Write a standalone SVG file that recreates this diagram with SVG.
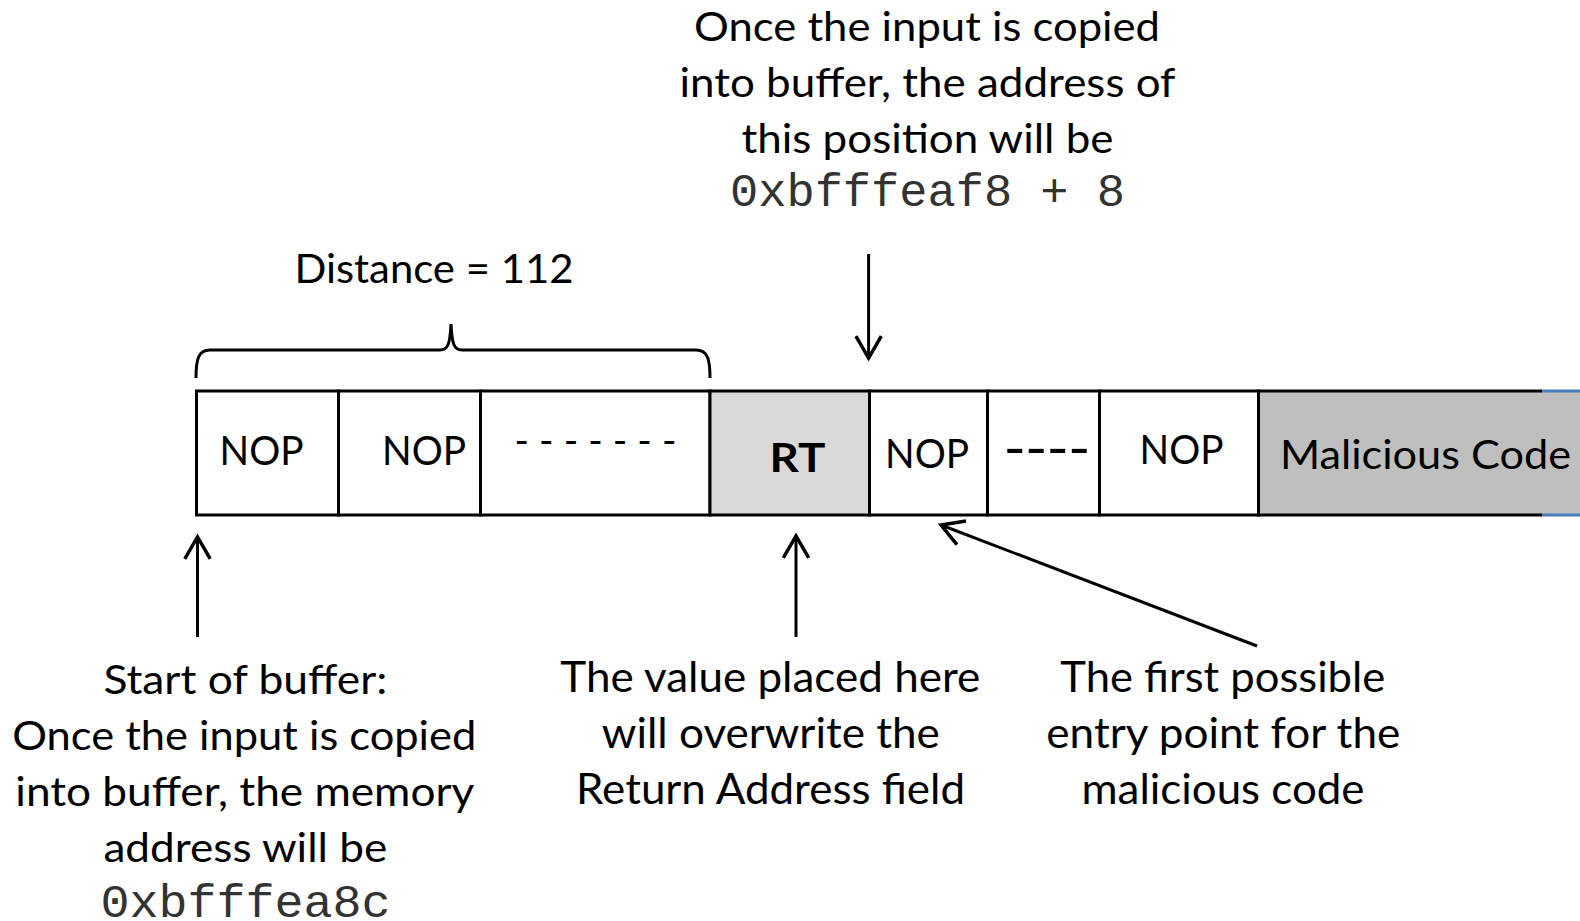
<svg xmlns="http://www.w3.org/2000/svg" width="1580" height="921" viewBox="0 0 1580 921">
<style>
.t{font-family:Lato,"Liberation Sans",sans-serif;font-size:40px;fill:#000;text-anchor:middle}
.c{font-family:Lato,"Liberation Sans",sans-serif;font-size:42px;fill:#000;text-anchor:middle}
.m{font-family:"Liberation Mono",monospace;font-size:46px;fill:#333;text-anchor:middle}
.b{font-weight:bold}
.cell{stroke:#000;stroke-width:3}
.ln{stroke:#000;stroke-width:3;fill:none}
</style>
<defs>
<marker id="ah" markerUnits="userSpaceOnUse" markerWidth="30" markerHeight="30" refX="0" refY="0" viewBox="-22 -13 26 26" orient="auto" overflow="visible">
<path d="M-19,-11 L0,0 L-19,11" fill="none" stroke="#000" stroke-width="3"/>
</marker>
</defs>
<rect width="1580" height="921" fill="#fff"/>

<g id="top-note">
<text class="t" x="927" y="41" textLength="466" lengthAdjust="spacingAndGlyphs">Once the input is copied</text>
<text class="t" x="927.5" y="97" textLength="496" lengthAdjust="spacingAndGlyphs">into buffer, the address of</text>
<text class="t" x="927.5" y="153" textLength="372" lengthAdjust="spacingAndGlyphs">this position will be</text>
<text class="m" x="927.5" y="206" textLength="395" lengthAdjust="spacingAndGlyphs">0xbfffeaf8 + 8</text>
</g>

<g id="distance">
<text class="t" x="434" y="283" textLength="279" lengthAdjust="spacingAndGlyphs">Distance = 112</text>
<path class="ln" d="M196,378 C196,360 198,350 210,350 L440,350 C448,350 450,344 451,324 C452,344 454,350 462,350 L696,350 C708,350 710,360 710,378"/>
</g>

<g id="cell-nop1">
<rect class="cell" x="196.5" y="391" width="142" height="124" fill="#fff"/>
<text class="t" x="261.5" y="464.5" textLength="84" lengthAdjust="spacingAndGlyphs">NOP</text>
</g>
<g id="cell-nop2">
<rect class="cell" x="338.5" y="391" width="142" height="124" fill="#fff"/>
<text class="t" x="424" y="464.5" textLength="84" lengthAdjust="spacingAndGlyphs">NOP</text>
</g>
<g id="cell-dots1">
<rect class="cell" x="480.5" y="391" width="229.5" height="124" fill="#fff"/>
<text class="t" x="595.5" y="454.5" textLength="162" lengthAdjust="spacingAndGlyphs">- - - - - - -</text>
</g>
<g id="cell-rt">
<rect class="cell" x="710" y="391" width="159.5" height="124" fill="#d9d9d9"/>
<text class="t b" x="797.5" y="472" font-size="43" textLength="56" lengthAdjust="spacingAndGlyphs">RT</text>
</g>
<g id="cell-nop3">
<rect class="cell" x="869.5" y="391" width="118" height="124" fill="#fff"/>
<text class="t" x="927" y="467.5" textLength="84" lengthAdjust="spacingAndGlyphs">NOP</text>
</g>
<g id="cell-dots2">
<rect class="cell" x="987.5" y="391" width="112" height="124" fill="#fff"/>
<text class="t b" x="1047" y="463" textLength="86" lengthAdjust="spacingAndGlyphs">----</text>
</g>
<g id="cell-nop4">
<rect class="cell" x="1099.5" y="391" width="159" height="124" fill="#fff"/>
<text class="t" x="1181.5" y="464" textLength="84" lengthAdjust="spacingAndGlyphs">NOP</text>
</g>
<g id="cell-malicious">
<rect x="1258.5" y="391" width="330" height="124" fill="#bfbfbf"/>
<path d="M1542,391 H1580 M1542,515 H1580" stroke="#4a7ebb" stroke-width="3"/>
<path d="M1542,391 H1258.5 V515 H1542" stroke="#000" stroke-width="3" fill="none"/>
<text class="t" x="1425.5" y="469" font-size="44" textLength="291" lengthAdjust="spacingAndGlyphs">Malicious Code</text>
</g>

<g id="connectors">
<line class="ln" x1="868.6" y1="254" x2="868.6" y2="358" marker-end="url(#ah)"/>
<line class="ln" x1="197.5" y1="637" x2="197.5" y2="537" marker-end="url(#ah)"/>
<line class="ln" x1="796" y1="637" x2="796" y2="536" marker-end="url(#ah)"/>
<line class="ln" x1="1257" y1="646" x2="941" y2="525" marker-end="url(#ah)"/>
</g>

<g id="note-start">
<text class="t" x="245.4" y="693.5" textLength="284" lengthAdjust="spacingAndGlyphs">Start of buffer:</text>
<text class="t" x="244.3" y="749.5" textLength="464" lengthAdjust="spacingAndGlyphs">Once the input is copied</text>
<text class="t" x="244.8" y="806" textLength="459" lengthAdjust="spacingAndGlyphs">into buffer, the memory</text>
<text class="t" x="245.4" y="862" textLength="284" lengthAdjust="spacingAndGlyphs">address will be</text>
<text class="m" x="245.5" y="917" textLength="290" lengthAdjust="spacingAndGlyphs">0xbfffea8c</text>
</g>

<g id="note-rt">
<text class="c" x="770.3" y="692" textLength="420" lengthAdjust="spacingAndGlyphs">The value placed here</text>
<text class="c" x="770.8" y="748" textLength="338" lengthAdjust="spacingAndGlyphs">will overwrite the</text>
<text class="c" x="770.5" y="804" textLength="389" lengthAdjust="spacingAndGlyphs">Return Address field</text>
</g>

<g id="note-entry">
<text class="c" x="1222.8" y="692" textLength="325" lengthAdjust="spacingAndGlyphs">The first possible</text>
<text class="c" x="1223.3" y="748" textLength="354" lengthAdjust="spacingAndGlyphs">entry point for the</text>
<text class="c" x="1223" y="804" textLength="283" lengthAdjust="spacingAndGlyphs">malicious code</text>
</g>
</svg>
